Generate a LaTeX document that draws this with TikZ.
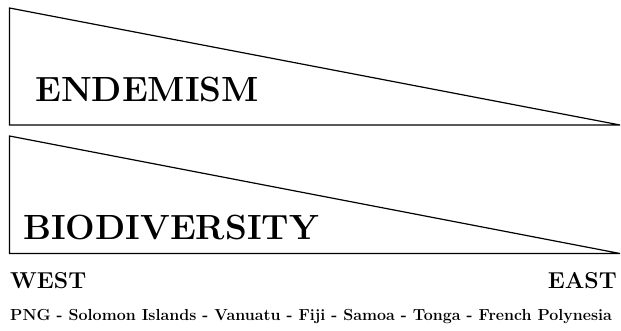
\documentclass[tikz,border=0pt]{standalone}
\usepackage{tikz}
\usetikzlibrary{positioning}
\tikzset{
  wedge/.style={draw=black,line width=1.2pt,fill=white,line join=miter},
  bigword/.style={font=\bfseries\fontsize{35}{38}\selectfont,inner sep=0pt,anchor=base west},
  sideword/.style={font=\bfseries\fontsize{23}{26}\selectfont,inner sep=0pt},
  islands/.style={font=\bfseries\fontsize{16}{18}\selectfont,inner sep=0pt,anchor=base west}
}

\begin{document}
\begin{tikzpicture}[x=1pt,y=-1pt]
  \useasboundingbox (0,0) rectangle (621,331);
  \draw[wedge] (9.5,8) -- (9.5,125) -- (620,125) -- cycle;
  \draw[wedge] (9.5,136) -- (9.5,253.5) -- (620,253.5) -- cycle;
  \node[bigword] (endem) at (35,102) {ENDEMISM};
  \node[bigword] (biodiv) at (23,240) {BIODIVERSITY};
  \node[sideword,anchor=base west] (west) at (10,288) {WEST};
  \node[sideword,anchor=base east] (east) at (617,288) {EAST};
  \node[islands] (route) at (10,320) {PNG - Solomon Islands - Vanuatu - Fiji - Samoa - Tonga - French Polynesia};
\end{tikzpicture}
\end{document}
